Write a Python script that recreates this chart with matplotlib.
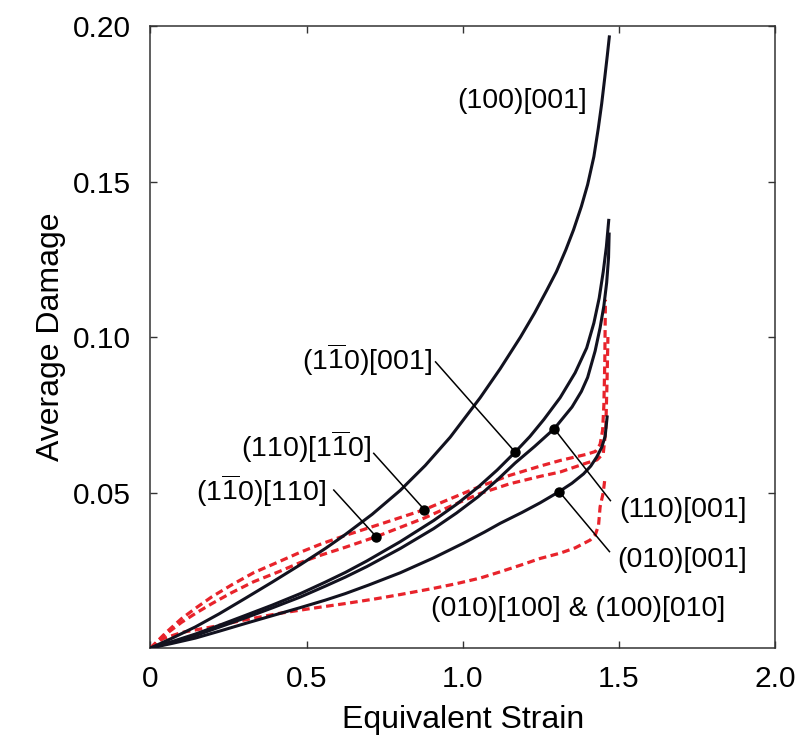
import numpy as np
import matplotlib
matplotlib.use("Agg")
import matplotlib.pyplot as plt

FONT = 'Liberation Sans'
plt.rcParams['font.family'] = [FONT, 'DejaVu Sans']
plt.rcParams['mathtext.fontset'] = 'custom'
plt.rcParams['mathtext.rm'] = FONT
plt.rcParams['mathtext.it'] = FONT
plt.rcParams['mathtext.default'] = 'regular'

# ---- data ----
# (100)[001]
c100_x = [0, 0.07, 0.144, 0.22, 0.304, 0.39, 0.48, 0.56, 0.624, 0.71, 0.8, 0.88, 0.96, 1.056, 1.12, 1.185,
          1.23, 1.269, 1.30, 1.33, 1.355, 1.38, 1.40, 1.42, 1.434, 1.445, 1.455, 1.463, 1.47]
c100_y = [0, 0.0032, 0.0068, 0.0110, 0.0160, 0.0212, 0.0268, 0.0320, 0.0365, 0.0430, 0.0507, 0.0587, 0.0678,
          0.0805, 0.0898, 0.100, 0.1077, 0.1150, 0.1210, 0.1280, 0.1345, 0.1420, 0.1490, 0.1580, 0.1670,
          0.1750, 0.1835, 0.1905, 0.197]
# (1-10)[001]
cA_x = [0, 0.07, 0.144, 0.22, 0.304, 0.39, 0.48, 0.56, 0.624, 0.693, 0.8, 0.907, 0.98, 1.05, 1.11, 1.168,
        1.215, 1.26, 1.312, 1.36, 1.397, 1.42, 1.437, 1.45, 1.46, 1.468]
cA_y = [0, 0.0021, 0.0045, 0.0073, 0.0105, 0.0138, 0.0175, 0.0212, 0.0243, 0.0280, 0.0342, 0.0410, 0.0462,
        0.0518, 0.0572, 0.0630, 0.0680, 0.0735, 0.0805, 0.0885, 0.0965, 0.1045, 0.1125, 0.1210, 0.1290, 0.1380]
# (110)[001]
cB_x = [0, 0.07, 0.144, 0.22, 0.304, 0.39, 0.48, 0.56, 0.624, 0.693, 0.8, 0.907, 0.98, 1.05, 1.11, 1.168,
        1.23, 1.293, 1.35, 1.38, 1.40, 1.424, 1.44, 1.452, 1.461, 1.467, 1.469]
cB_y = [0, 0.0019, 0.0040, 0.0067, 0.0097, 0.0129, 0.0164, 0.0199, 0.0228, 0.0262, 0.0320, 0.0384, 0.0434,
        0.0487, 0.0540, 0.0595, 0.0648, 0.0705, 0.0775, 0.0825, 0.0870, 0.0955, 0.1030, 0.1100, 0.1175,
        0.1255, 0.1336]
# (010)[001]
cD_x = [0, 0.07, 0.144, 0.22, 0.304, 0.39, 0.48, 0.56, 0.624, 0.7, 0.8, 0.907, 1.0, 1.07, 1.12, 1.19, 1.248,
        1.309, 1.35, 1.387, 1.41, 1.429, 1.445, 1.456, 1.463]
cD_y = [0, 0.0015, 0.0032, 0.0054, 0.0079, 0.0104, 0.0130, 0.0154, 0.0175, 0.0203, 0.0242, 0.0290, 0.0336,
        0.0373, 0.0401, 0.0436, 0.0467, 0.0503, 0.0530, 0.0560, 0.0585, 0.0614, 0.0645, 0.0680, 0.0748]
# (110)[1-10]  (red dashed)
rE1_x = [0, 0.025, 0.05, 0.1, 0.15, 0.197, 0.26, 0.33, 0.41, 0.48, 0.55, 0.624, 0.75, 0.877, 0.97, 1.056,
         1.15, 1.248, 1.312, 1.397, 1.425, 1.44, 1.448, 1.452, 1.455, 1.457]
rE1_y = [0, 0.0025, 0.0050, 0.0095, 0.0132, 0.0165, 0.0203, 0.0242, 0.0277, 0.0308, 0.0336, 0.0362, 0.0403,
         0.0445, 0.0484, 0.0520, 0.0555, 0.0585, 0.0603, 0.0623, 0.0632, 0.0655, 0.0700, 0.0780, 0.0920, 0.1120]
# (1-10)[110]  (red dashed)
rE2_x = [0, 0.025, 0.05, 0.1, 0.15, 0.197, 0.26, 0.33, 0.41, 0.48, 0.55, 0.624, 0.723, 0.877, 0.97, 1.056,
         1.15, 1.248, 1.312, 1.397, 1.43, 1.45, 1.458, 1.462, 1.465]
rE2_y = [0, 0.0023, 0.0045, 0.0083, 0.0115, 0.0143, 0.0178, 0.0213, 0.0245, 0.0275, 0.0300, 0.0324, 0.0358,
         0.0418, 0.0460, 0.0497, 0.0528, 0.0552, 0.0566, 0.0595, 0.0605, 0.0625, 0.0700, 0.0850, 0.1000]
# (010)[100] & (100)[010]  (red dashed)
rF_x = [0, 0.02, 0.04, 0.1, 0.197, 0.3, 0.41, 0.52, 0.624, 0.72, 0.8, 0.907, 0.98, 1.056, 1.12, 1.19, 1.248,
        1.312, 1.36, 1.408, 1.425, 1.435, 1.44, 1.45, 1.456]
rF_y = [0, 0.0016, 0.0030, 0.0050, 0.0068, 0.0090, 0.0111, 0.0128, 0.0143, 0.0158, 0.0172, 0.0192, 0.0207,
        0.0225, 0.0245, 0.0268, 0.0288, 0.0305, 0.0322, 0.0347, 0.0365, 0.0395, 0.0454, 0.0500, 0.0550]

# marker strains on curves
mk_A_x = 1.168
mk_B_x = 1.293
mk_D_x = 1.309
mk_E1_x = 0.877
mk_E2_x = 0.723

x_ticks = [0, 0.5, 1.0, 1.5, 2.0]
x_ticklabels = ["0", "0.5", "1.0", "1.5", "2.0"]
y_ticks = [0.05, 0.10, 0.15, 0.20]
y_ticklabels = ["0.05", "0.10", "0.15", "0.20"]

BLACK = '#12121f'
RED = '#e8232b'

fig = plt.figure(figsize=(8.06, 7.44), dpi=100)
ax = fig.add_axes([0.1867, 0.129, 0.7748, 0.836])

for xs, ys in [(c100_x, c100_y), (cA_x, cA_y), (cB_x, cB_y), (cD_x, cD_y)]:
    ax.plot(xs, ys, color=BLACK, lw=2.2, solid_capstyle='butt', solid_joinstyle='round', zorder=3)
for xs, ys in [(rE1_x, rE1_y), (rE2_x, rE2_y), (rF_x, rF_y)]:
    ax.plot(xs, ys, color=RED, lw=2.3, linestyle=(0, (2.4, 1.4)), zorder=2)

ax.set_xlim(0, 2.0)
ax.set_ylim(0, 0.20)
ax.set_xticks(x_ticks)
ax.set_xticklabels(x_ticklabels)
ax.set_yticks(y_ticks)
ax.set_yticklabels(y_ticklabels)
ax.tick_params(axis='both', direction='in', length=5, width=1.0, color='#333333',
               top=True, right=True, labelsize=21.5)
ax.tick_params(axis='x', pad=12)
ax.tick_params(axis='y', pad=14)
for s in ax.spines.values():
    s.set_linewidth(1.1)
    s.set_color('#333333')

ax.set_xlabel("Equivalent Strain", fontsize=23, va='center')
ax.set_ylabel("Average Damage", fontsize=23, va='center')
ax.xaxis.set_label_coords(0.5, -0.116)
ax.yaxis.set_label_coords(-0.159, 0.5)

# markers and leader lines
def mark(xs, ys, mx, lx, ly):
    my = float(np.interp(mx, xs, ys))
    ax.plot([lx, mx], [ly, my], color='black', lw=1.1, zorder=4)
    ax.plot([mx], [my], 'o', color='black', ms=6.5, zorder=5)

mark(cA_x, cA_y, mk_A_x, 0.913, 0.092)
mark(cB_x, cB_y, mk_B_x, 1.473, 0.0474)
mark(cD_x, cD_y, mk_D_x, 1.470, 0.031)
mark(rE1_x, rE1_y, mk_E1_x, 0.715, 0.0626)
mark(rE2_x, rE2_y, mk_E2_x, 0.587, 0.0508)

fs = 20.5
ax.text(1.189, 0.176, "(100)[001]", fontsize=fs, ha='center', va='center')
ax.text(0.900, 0.0926, r"(1$\overline{\mathrm{1}}$0)[001]", fontsize=fs, ha='right', va='center')
ax.text(0.705, 0.0646, r"(110)[1$\overline{\mathrm{1}}$0]", fontsize=fs, ha='right', va='center')
ax.text(0.562, 0.0505, r"(1$\overline{\mathrm{1}}$0)[110]", fontsize=fs, ha='right', va='center')
ax.text(1.502, 0.0444, "(110)[001]", fontsize=fs, ha='left', va='center')
ax.text(1.494, 0.0283, "(010)[001]", fontsize=fs, ha='left', va='center')
ax.text(1.371, 0.0125, "(010)[100] & (100)[010]", fontsize=fs, ha='center', va='center')

fig.savefig("out.png", dpi=100)
